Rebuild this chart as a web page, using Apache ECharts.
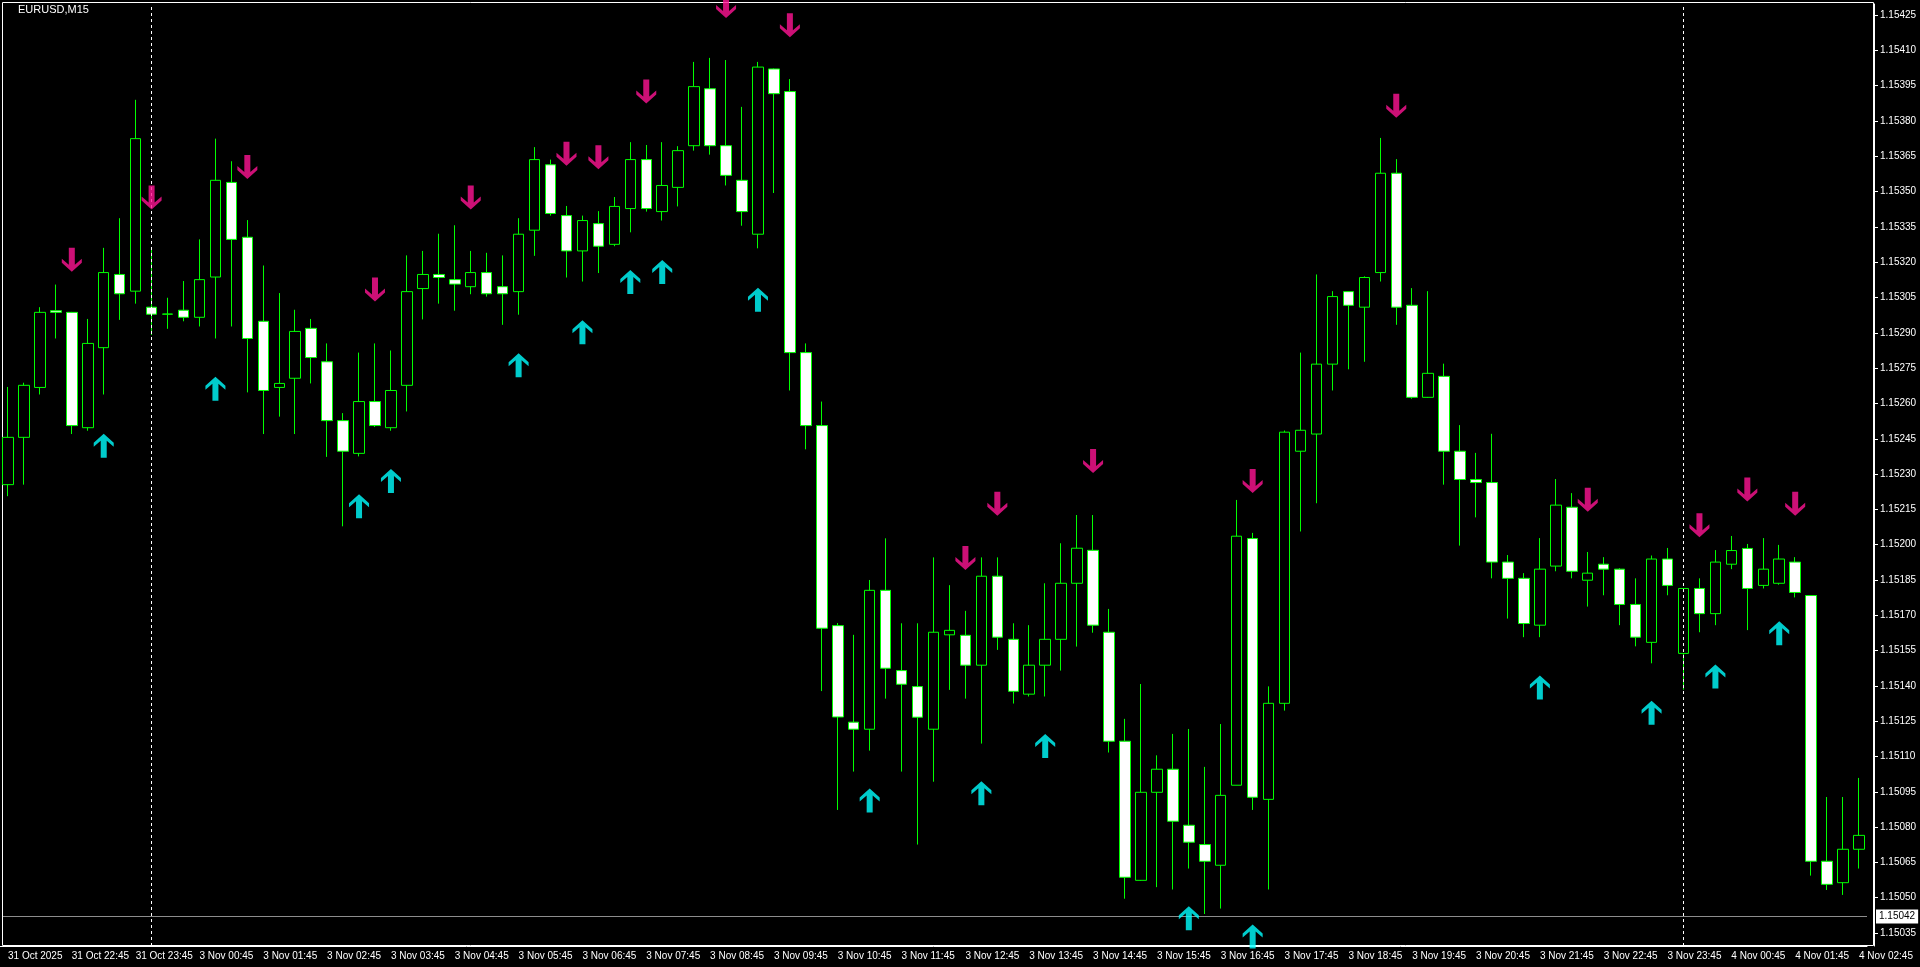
<!DOCTYPE html>
<html>
<head>
<meta charset="utf-8">
<script src="https://cdn.jsdelivr.net/npm/echarts@6/dist/echarts.min.js"></script>
<style>
html, body { margin: 0; padding: 0; background: #000; }
#chart { width: 1920px; height: 967px; }
</style>
</head>
<body>
<div id="chart"></div>
<script>
// EURUSD M15 candles, 31 Oct 21:45 .. 4 Nov 02:45
var opens = [
 1.152255,1.152456,1.152668,1.152994,1.152987,1.152497,1.152837,1.153148,1.153077,1.153009,
 1.152979,1.152996,1.152966,1.153137,1.153539,1.153306,1.152949,1.152668,1.152707,1.152919,
 1.152777,1.152527,1.152388,1.152608,1.152497,1.152677,1.153088,1.153148,1.153126,1.153096,
 1.153156,1.153096,1.153075,1.153336,1.153614,1.153398,1.153248,1.153364,1.153276,1.153428,
 1.153636,1.153415,1.153518,1.153695,1.153937,1.153695,1.153548,1.153319,1.154021,1.153925,
 1.152816,1.152506,1.151656,1.151246,1.151216,1.151806,1.151465,1.151397,1.151216,1.151617,
 1.151615,1.151488,1.151866,1.151598,1.151365,1.151488,1.151598,1.151836,1.151976,1.151628,
 1.151165,1.150574,1.150948,1.151046,1.150808,1.150726,1.150638,1.150978,1.152026,1.150918,
 1.151326,1.152397,1.152470,1.152767,1.153075,1.153009,1.153156,1.153578,1.153017,1.152626,
 1.152715,1.152397,1.152277,1.152264,1.151926,1.151857,1.151658,1.151909,1.152159,1.151849,
 1.151917,1.151896,1.151746,1.151585,1.151939,1.151538,1.151814,1.151707,1.151917,1.151984,
 1.151827,1.151836,1.151926,1.151784,1.150655,1.150564,1.150706
];
var closes = [
 1.152456,1.152677,1.152987,1.152987,1.152506,1.152855,1.153156,1.153066,1.153725,1.152979,
 1.152980,1.152966,1.153126,1.153548,1.153297,1.152876,1.152655,1.152685,1.152906,1.152795,
 1.152527,1.152397,1.152608,1.152506,1.152655,1.153075,1.153148,1.153135,1.153107,1.153156,
 1.153066,1.153066,1.153319,1.153636,1.153407,1.153248,1.153377,1.153268,1.153437,1.153636,
 1.153428,1.153526,1.153674,1.153946,1.153695,1.153569,1.153415,1.154029,1.153916,1.152816,
 1.152506,1.151645,1.151268,1.151216,1.151806,1.151475,1.151407,1.151267,1.151628,1.151636,
 1.151488,1.151866,1.151607,1.151377,1.151488,1.151598,1.151836,1.151985,1.151658,1.151165,
 1.150587,1.150948,1.151046,1.150825,1.150736,1.150655,1.150935,1.152036,1.150927,1.151326,
 1.152478,1.152486,1.152767,1.153054,1.153017,1.153135,1.153578,1.153009,1.152626,1.152728,
 1.152397,1.152277,1.152264,1.151926,1.151857,1.151665,1.151896,1.152168,1.151887,1.151879,
 1.151896,1.151746,1.151607,1.151939,1.151827,1.151814,1.151707,1.151926,1.151975,1.151814,
 1.151896,1.151939,1.151797,1.150655,1.150557,1.150706,1.150765
];
var lows = [
 1.152206,1.152255,1.152638,1.152876,1.152470,1.152484,1.152638,1.152955,1.153024,1.152891,
 1.152917,1.152949,1.152927,1.152876,1.152927,1.152647,1.152470,1.152544,1.152470,1.152685,
 1.152373,1.152078,1.152375,1.152500,1.152484,1.152566,1.152957,1.153024,1.152994,1.153064,
 1.153054,1.152934,1.152977,1.153227,1.153398,1.153135,1.153118,1.153154,1.153268,1.153327,
 1.153415,1.153377,1.153437,1.153674,1.153657,1.153526,1.153355,1.153259,1.153494,1.152655,
 1.152405,1.151378,1.150873,1.151036,1.151125,1.151346,1.151036,1.150726,1.150993,1.151383,
 1.151346,1.151155,1.151553,1.151325,1.151355,1.151355,1.151465,1.151567,1.151626,1.151117,
 1.150496,1.150572,1.150545,1.150535,1.150624,1.150431,1.150454,1.150978,1.150873,1.150535,
 1.151295,1.152056,1.152176,1.152655,1.152745,1.152777,1.153118,1.152934,1.152620,1.152624,
 1.152255,1.151996,1.152116,1.151857,1.151686,1.151607,1.151607,1.151887,1.151857,1.151737,
 1.151785,1.151658,1.151568,1.151496,1.151785,1.151384,1.151628,1.151658,1.151896,1.151637,
 1.151814,1.151830,1.151776,1.150594,1.150533,1.150512,1.150624
];
var highs = [
 1.152670,1.152688,1.153009,1.153105,1.152989,1.152959,1.153261,1.153387,1.153890,1.153255,
 1.153049,1.153120,1.153297,1.153725,1.153629,1.153379,1.153186,1.153069,1.152998,1.152959,
 1.152855,1.152559,1.152816,1.152855,1.152825,1.153229,1.153248,1.153321,1.153357,1.153248,
 1.153240,1.153229,1.153387,1.153689,1.153636,1.153439,1.153398,1.153417,1.153477,1.153710,
 1.153698,1.153710,1.153693,1.154051,1.154068,1.154059,1.153860,1.154051,1.154023,1.153978,
 1.152855,1.152608,1.151667,1.151617,1.151850,1.152027,1.151666,1.151666,1.151946,1.151828,
 1.151719,1.151946,1.151946,1.151666,1.151658,1.151836,1.152006,1.152126,1.152126,1.151727,
 1.151260,1.151408,1.151105,1.151196,1.151217,1.151056,1.151238,1.152190,1.152050,1.151398,
 1.152485,1.152816,1.153148,1.153077,1.153077,1.153140,1.153728,1.153638,1.153090,1.153077,
 1.152769,1.152508,1.152390,1.152471,1.151956,1.151879,1.152028,1.152279,1.152219,1.151969,
 1.151947,1.151900,1.151857,1.151954,1.151986,1.151816,1.151857,1.151977,1.152037,1.152003,
 1.152028,1.151999,1.151947,1.151786,1.150928,1.150928,1.151009
];
// signal arrows: [candle index, price]
var upArrows = [
 [6,1.152420],[13,1.152662],[22,1.152163],[24,1.152270],[32,1.152762],[36,1.152902],
 [39,1.153116],[41,1.153158],[47,1.153041],[54,1.150913],[61,1.150944],[65,1.151145],
 [74,1.150413],[78,1.150335],[96,1.151393],[103,1.151286],[107,1.151440],[111,1.151624]
];
var downArrows = [
 [4,1.153210],[9,1.153475],[15,1.153604],[23,1.153084],[29,1.153475],[35,1.153661],
 [37,1.153646],[40,1.153925],[45,1.154289],[49,1.154207],[60,1.151943],[62,1.152174],
 [68,1.152356],[78,1.152270],[87,1.153865],[99,1.152191],[106,1.152082],[109,1.152234],[112,1.152174]
];
var priceTicks = [
 1.15035,1.15050,1.15065,1.15080,1.15095,1.15110,1.15125,1.15140,1.15155,1.15170,
 1.15185,1.15200,1.15215,1.15230,1.15245,1.15260,1.15275,1.15290,1.15305,1.15320,
 1.15335,1.15350,1.15365,1.15380,1.15395,1.15410,1.15425
];
var bidPrice = 1.15042;
var daySeparators = [9, 105];

function pad(n) { return (n < 10 ? '0' : '') + n; }
var times = [];
for (var k = 0; k < opens.length; k++) {
  var day, mins;
  if (k < 9) { day = '31 Oct'; mins = 21 * 60 + 45 + 15 * k; }
  else if (k < 105) { day = '3 Nov'; mins = 15 * (k - 9); }
  else { day = '4 Nov'; mins = 15 * (k - 105); }
  times.push(day + ' ' + pad(Math.floor(mins / 60)) + ':' + pad(mins % 60));
}

var candles = opens.map(function (o, i) { return [o, closes[i], lows[i], highs[i]]; });
var showLabel = function (i) { return i === 0 || i % 4 === 0; };
var arrowPath = 'path://M10,0 L20,9 L20,13 L13,7 L13,24 L7,24 L7,7 L0,13 L0,9 Z';
var font = 'Liberation Sans Narrow, Liberation Sans, Arial';

var chart = echarts.init(document.getElementById('chart'));
chart.setOption({
  backgroundColor: '#000',
  animation: false,
  grid: { left: -5, width: 1872, top: 4, bottom: 21 },
  graphic: [
    { type: 'rect', shape: { x: 2.5, y: 2.5, width: 1871, height: 943 },
      style: { fill: 'none', stroke: '#fff', lineWidth: 1 }, silent: true },
    { type: 'text', left: 18, top: 4,
      style: { text: 'EURUSD,M15', fill: '#fff', font: '11px ' + font } }
  ],
  xAxis: {
    type: 'category',
    data: times,
    boundaryGap: true,
    axisLine: { lineStyle: { color: '#fff' } },
    axisTick: { alignWithLabel: true, interval: showLabel, length: 4, lineStyle: { color: '#fff' } },
    axisLabel: {
      interval: showLabel, align: 'left', color: '#fff', fontSize: 10, fontFamily: font, margin: 5,
      formatter: function (v, i) { return i === 0 ? '31 Oct 2025' : v; }
    },
    splitLine: { show: false }
  },
  yAxis: {
    type: 'value',
    position: 'right',
    offset: 7,
    min: 1.150295,
    max: 1.154297,
    axisLine: { show: true, lineStyle: { color: '#fff' } },
    axisTick: { show: true, customValues: priceTicks, length: 4, lineStyle: { color: '#fff' } },
    axisLabel: {
      customValues: priceTicks, color: '#fff', fontSize: 10, fontFamily: font, margin: 6,
      formatter: function (v) { return v.toFixed(5); }
    },
    splitLine: { show: false }
  },
  series: [
    {
      type: 'candlestick',
      data: candles,
      barWidth: 11,
      itemStyle: {
        color: '#000', color0: '#fff',
        borderColor: '#00ff00', borderColor0: '#00ff00', borderWidth: 1
      },
      markLine: {
        symbol: 'none',
        silent: true,
        animation: false,
        data: daySeparators.map(function (i) {
          return { xAxis: i, lineStyle: { color: '#fff', type: [3, 3], width: 1 }, label: { show: false } };
        }).concat([[
          { x: 3, yAxis: bidPrice },
          { x: 1867, yAxis: bidPrice,
            lineStyle: { color: '#8c8c8c', type: 'solid', width: 1 },
            label: { show: true, position: 'end', formatter: bidPrice.toFixed(5), distance: 9,
                     backgroundColor: '#fff', color: '#000', fontSize: 10, fontFamily: font, padding: [2, 3] } }
        ]])
      }
    },
    {
      type: 'scatter',
      data: upArrows,
      symbol: arrowPath,
      symbolSize: [20, 24],
      itemStyle: { color: '#00ffff' },
      z: 5
    },
    {
      type: 'scatter',
      data: downArrows,
      symbol: arrowPath,
      symbolSize: [20, 24],
      symbolRotate: 180,
      itemStyle: { color: '#ff1493' },
      z: 5
    }
  ]
});
</script>
</body>
</html>
